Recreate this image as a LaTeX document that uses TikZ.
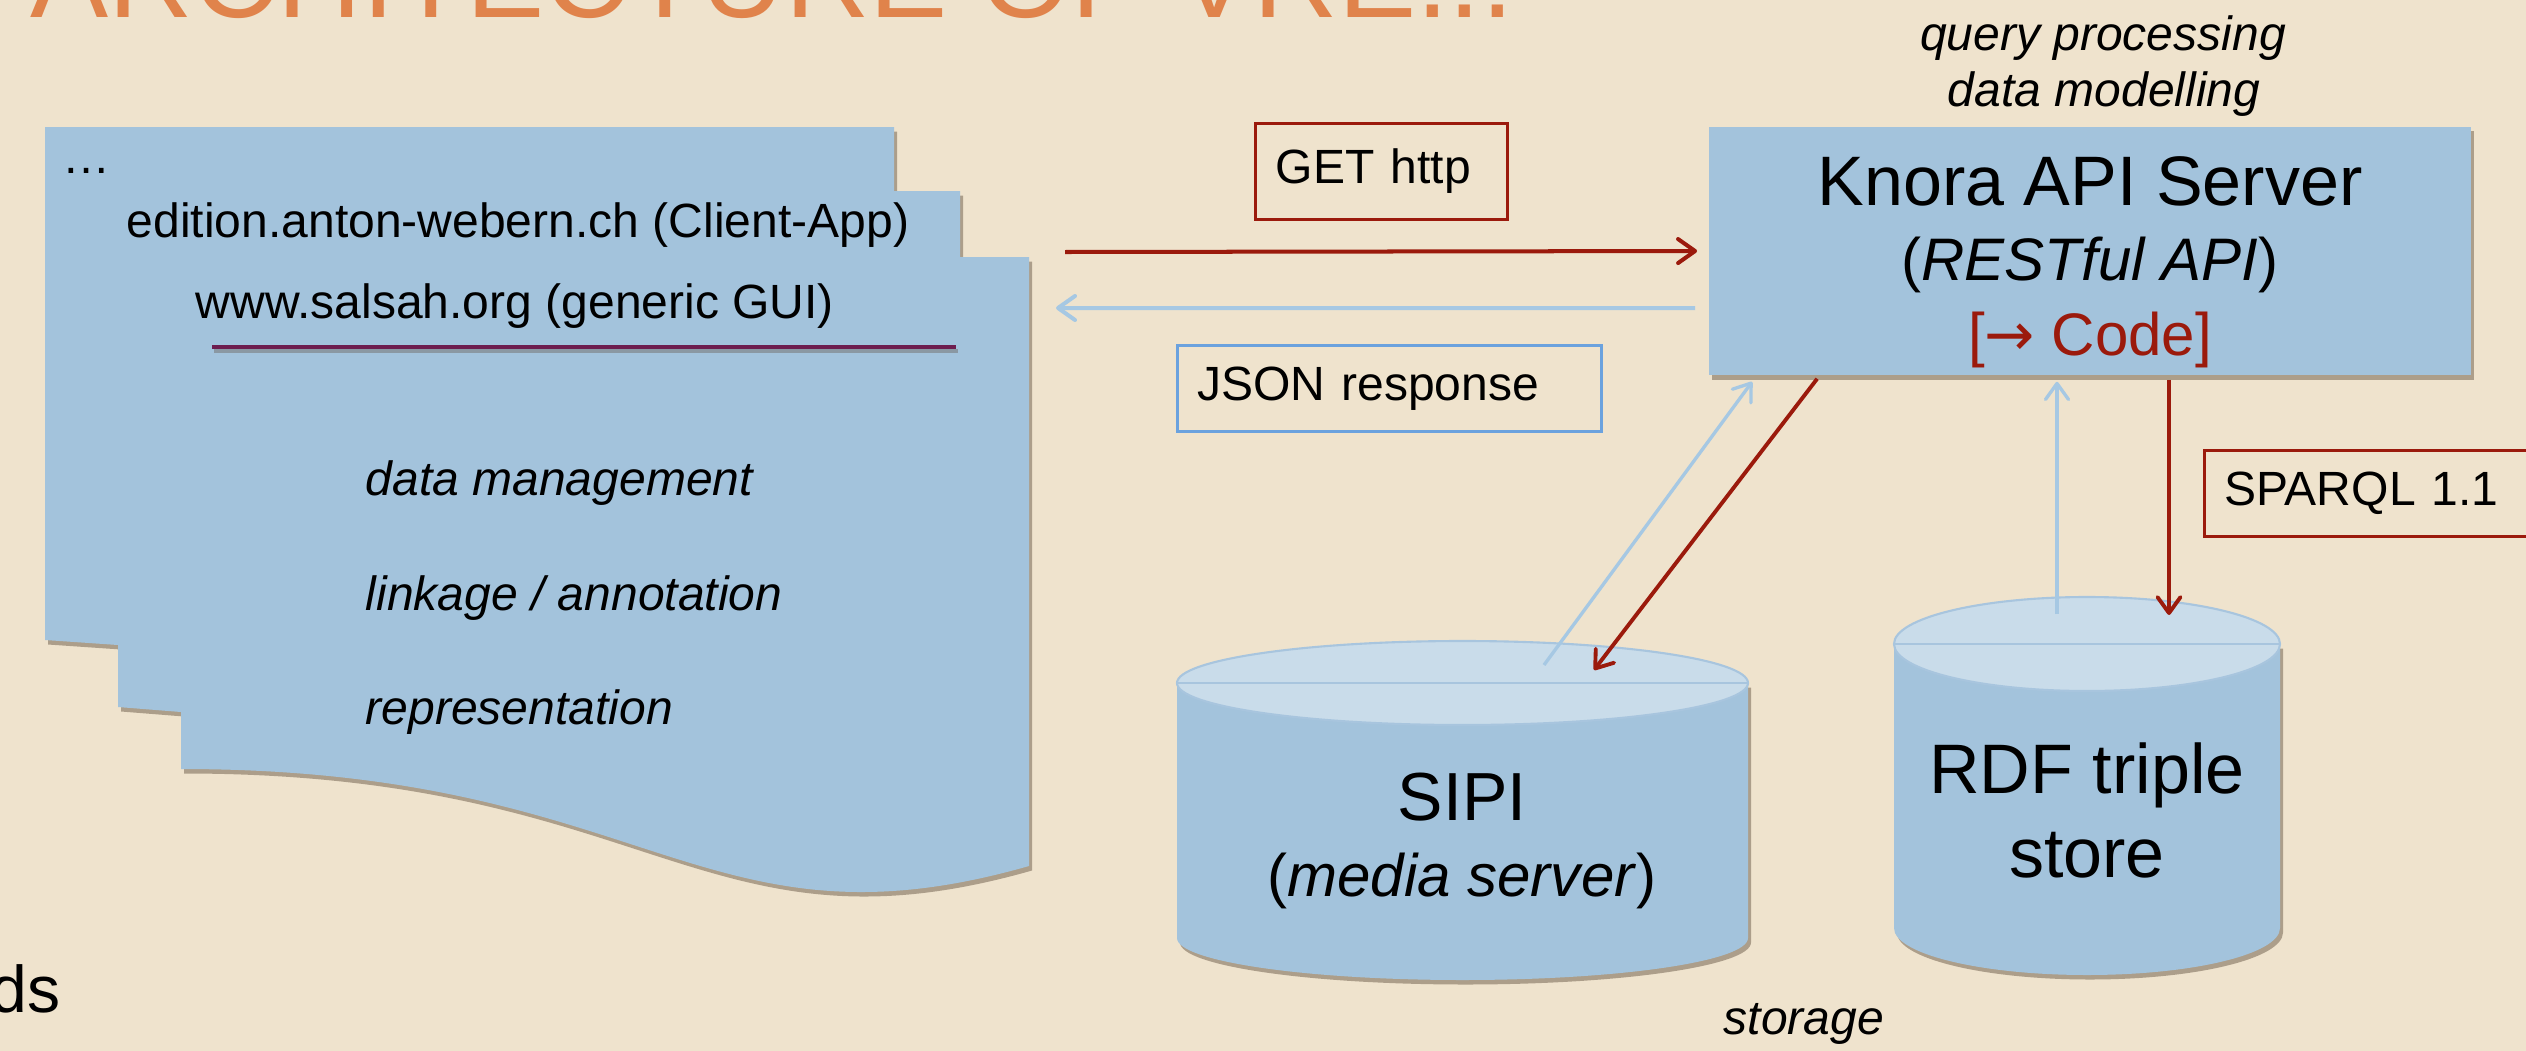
\documentclass[tikz,border=0pt]{standalone}
\usepackage{fontspec}
\setmainfont{Liberation Sans}
\newfontfamily\arrowfont{DejaVu Sans}
\usetikzlibrary{arrows.meta, shadows}
\definecolor{bgCol}{HTML}{EFE3CD}
\definecolor{pageCol}{HTML}{A3C3DC}
\definecolor{dbTopCol}{HTML}{C9DCEA}
\definecolor{dbLineCol}{HTML}{A8C5DE}
\definecolor{redCol}{HTML}{9B1A0C}
\definecolor{lightBlueCol}{HTML}{A6C8E3}
\definecolor{jsonCol}{HTML}{6BA2DE}
\definecolor{titleCol}{HTML}{E0834B}
\definecolor{purpleCol}{HTML}{6D1D4F}
\definecolor{shadowCol}{HTML}{5C4A3A}

\begin{document}
\begin{tikzpicture}[
    x=0.01cm, y=-0.01cm,
    % Node styles
    body/.style={
        font=\fontsize{13.66pt}{16.2pt}\selectfont,
        inner sep=0pt
    },
    note/.style={
        font=\fontsize{13.66pt}{16.2pt}\selectfont\itshape,
        inner sep=0pt
    },
    tagbox/.style={
        rectangle,
        draw=#1,
        line width=0.85pt,
        font=\fontsize{13.66pt}{16.2pt}\selectfont,
        inner xsep=0.2cm,
        inner ysep=0pt,
        minimum height=0.86cm,
        align=left
    },
    serverbox/.style={
        rectangle,
        fill=pageCol,
        minimum width=7.62cm,
        minimum height=2.48cm,
        inner ysep=0pt,
        align=center,
        font=\fontsize{17.07pt}{21.34pt}\selectfont,
        drop shadow={shadow xshift=0.3mm, shadow yshift=-0.45mm, fill=shadowCol, opacity=0.45}
    },
    shadowed/.style={
        drop shadow={shadow xshift=0.3mm, shadow yshift=-0.45mm, fill=shadowCol, opacity=0.45}
    },
    dbtop/.style={
        fill=dbTopCol,
        draw=dbLineCol,
        line width=0.6pt
    },
    dbtext/.style={
        align=center,
        inner sep=0pt
    },
    getarrow/.style={
        -{Straight Barb[length=1.7mm, width=2.4mm, round]},
        line width=1.14pt,
        draw=redCol
    },
    backarrow/.style={
        -{Straight Barb[length=1.7mm, width=2.4mm, round]},
        line width=1.14pt,
        draw=lightBlueCol
    },
    dbarrow/.style={
        -{Straight Barb[length=1.6mm, width=2.3mm, round]},
        line width=0.95pt,
        draw=#1
    }
]

    \useasboundingbox (0,0) rectangle (2526,1051);
    \clip (0,0) rectangle (2526,1051);
    \fill[bgCol] (0,0) rectangle (2526,1051);

    % ==== TITLE (cut at the top) ====
    \node[font=\fontsize{33.3pt}{40pt}\selectfont, text=titleCol, anchor=base west, inner sep=0pt] (title) at (30,17) {ARCHITECTURE OF VRE...};
    \node[font=\fontsize{18.8pt}{22pt}\selectfont, anchor=base west, inner sep=0pt] (ds) at (-10,1012) {ds};

    % ==== CLIENT PAGES (LEFT SIDE) ====
    \fill[pageCol, shadowed] (45,127) -- (894,127) -- (894,191) -- (960,191) -- (960,257) -- (1029,257)
        -- (1029,866) .. controls (700,960) and (650,769) .. (181,769)
        -- (181,712) -- (118,707) -- (118,645) -- (45,640) -- cycle;

    \node[body, anchor=base west] (dots) at (62,173) {…};
    \node[body, anchor=base] (edition) at (518,237) {edition.anton-webern.ch (Client-App)};
    \node[body, anchor=base] (salsah) at (515,318) {www.salsah.org (generic GUI)};

    % underline below the GUI
    \draw[shadowCol, opacity=0.35, line width=1.14pt] (214,351) -- (958,351);
    \draw[purpleCol, line width=1.14pt] (212,347) -- (956,347);

    \node[note, anchor=base west] (mgmt) at (365,495) {data management};
    \node[note, anchor=base west] (linkage) at (365,610) {linkage / annotation};
    \node[note, anchor=base west] (repr) at (365,724) {representation};

    % ==== KNORA API SERVER ====
    \node[note, anchor=base] (query) at (2103,50) {query processing};
    \node[note, anchor=base] (modelling) at (2104,106) {data modelling};

    % strut keeps the three lines a little below the middle
    \node[serverbox] (knora) at (2090,251) {\rule{0pt}{0.71cm}{\fontsize{19.92pt}{21.34pt}\selectfont Knora API Server}\\(\textit{RESTful API})\\\textcolor{redCol}{[{\arrowfont →} Code]}};

    % ==== REQUEST / RESPONSE ====
    \node[tagbox=redCol, text width=2.11cm, minimum height=0.96cm] (get) at (1381.5,171.5) {GET http};
    \node[tagbox=jsonCol, text width=3.84cm] (json) at (1389.5,388.5) {JSON response};

    \coordinate (getFrom) at (1065,252);
    \coordinate (jsonTo) at (1056,308);
    \draw[getarrow, shorten >=1.1mm] (getFrom) -- (knora.west);
    \draw[backarrow, shorten <=1.3mm] ([yshift=-5.7mm]knora.west) -- (jsonTo);

    % ==== STORAGE ====
    % SIPI
    \fill[pageCol, shadowed] (1177,683) -- (1177,938) arc[start angle=180, end angle=0, x radius=285.5, y radius=42] -- (1748,683) -- cycle;
    \filldraw[dbtop] (1462.5,683) ellipse[x radius=285.5, y radius=42];
    \draw[dbLineCol, line width=0.6pt] (1177,683) -- (1748,683);
    \node[dbtext, font=\fontsize{17.07pt}{21.6pt}\selectfont] (sipi) at (1462,841) {{\fontsize{19.35pt}{21.6pt}\selectfont SIPI}\\(\textit{media server})};

    % RDF triple store
    \fill[pageCol, shadowed] (1894,644) -- (1894,928) arc[start angle=180, end angle=0, x radius=193, y radius=47] -- (2280,644) -- cycle;
    \filldraw[dbtop] (2087,644) ellipse[x radius=193, y radius=47];
    \draw[dbLineCol, line width=0.6pt] (1894,644) -- (2280,644);
    \node[dbtext, font=\fontsize{19.92pt}{23.9pt}\selectfont] (rdf) at (2087,810) {RDF triple\\store};

    \node[note, anchor=base west] (storage) at (1723,1034) {storage};

    % ==== SERVER <-> STORAGE ====
    \coordinate (sipiIn) at (1544,665);
    \coordinate (sipiOut) at (1594,670);
    \coordinate (rdfIn) at (2057,614);
    \coordinate (rdfOut) at (2169,615);

    \draw[dbarrow=lightBlueCol] (sipiIn) -- ([xshift=4.4mm, yshift=-0.6mm]knora.south west);
    \draw[dbarrow=redCol, line width=1.1pt] ([xshift=10.9mm, yshift=-0.3mm]knora.south west) -- (sipiOut);
    \draw[dbarrow=lightBlueCol, shorten >=0.6mm] (rdfIn) -- (rdfIn |- knora.south);
    \draw[dbarrow=redCol, line width=1.1pt, shorten <=0.4mm] (rdfOut |- knora.south) -- (rdfOut);

    \node[tagbox=redCol, text width=3.15cm] (sparql) at (2382,493.5) {SPARQL 1.1};

\end{tikzpicture}
\end{document}
